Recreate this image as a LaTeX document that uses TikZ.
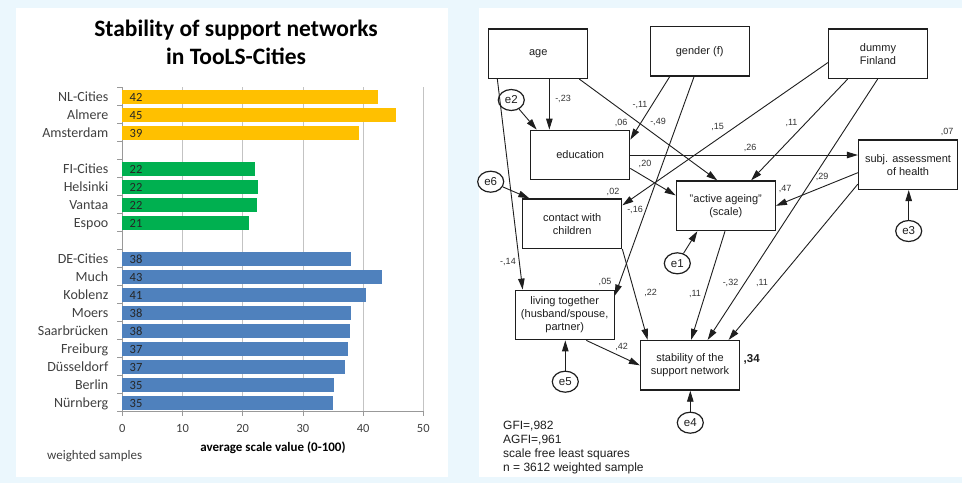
\documentclass[tikz,border=0pt]{standalone}
\usepackage{fontspec}
\setmainfont{Liberation Sans}
\newfontfamily\calfont{Carlito}
\usetikzlibrary{arrows.meta,calc,shapes.geometric}
\definecolor{bgblue}{RGB}{235,247,253}
\definecolor{cgold}{RGB}{255,192,0}
\definecolor{cgreen}{RGB}{0,176,80}
\definecolor{cblue}{RGB}{79,129,189}
\definecolor{gridgray}{RGB}{195,195,195}
\definecolor{txtgray}{RGB}{64,64,64}
\definecolor{ink}{RGB}{30,30,30}
\begin{document}
\begin{tikzpicture}[x=1pt,y=-1pt,
  box/.style={draw=ink,line width=1.3pt,fill=white,minimum width=99pt,minimum height=49.5pt,inner sep=1pt,align=center,text=ink,font=\fontsize{11}{13}\selectfont},
  err/.style={draw=ink,line width=1.2pt,fill=white,ellipse,minimum width=26pt,minimum height=21pt,inner sep=0pt,text=ink,font=\fontsize{11.5}{13}\selectfont},
  arr/.style={draw=ink,line width=0.9pt,-{Triangle[length=11pt,width=6.5pt]}},
  coef/.style={font=\fontsize{9}{10}\selectfont,text=black!80,inner sep=0pt},
  cat/.style={font=\calfont\fontsize{14}{16}\selectfont,text=txtgray,inner sep=0pt,anchor=base east},
  val/.style={font=\calfont\fontsize{12.5}{14}\selectfont,text=black!85,inner sep=0pt,anchor=base west},
  tick/.style={font=\calfont\fontsize{12.5}{14}\selectfont,text=txtgray,inner sep=0pt,anchor=base},
  note/.style={font=\fontsize{12}{14}\selectfont,text=ink,inner sep=0pt,anchor=base west}]
% background and panels
\fill[bgblue] (0,0) rectangle (962,483);
\fill[white] (16,8) rectangle (448,477);
\fill[white] (479,8) rectangle (962,477);
% ---------------- bar chart ----------------
\node[font=\calfont\bfseries\fontsize{23.5}{28}\selectfont,anchor=base,inner sep=0pt] (title1) at (236,36.7) {Stability of support networks};
\node[font=\calfont\bfseries\fontsize{23.5}{28}\selectfont,anchor=base,inner sep=0pt] (title2) at (236,64.7) {in TooLS-Cities};
\foreach \k in {1,...,5}
  \draw[gridgray,line width=0.8pt] ({122.3+60.2*\k},87) -- ({122.3+60.2*\k},411);
\draw[gray!80,line width=0.8pt] (122.3,87) -- (122.3,411) -- (423.3,411);
\foreach \k in {0,...,18}
  \draw[gray!80,line width=0.8pt] (117.3,{87+18*\k}) -- (122.3,{87+18*\k});
\foreach \k/\lab in {0/0,1/10,2/20,3/30,4/40,5/50}{
  \draw[gray!80,line width=0.8pt] ({122.3+60.2*\k},411) -- ({122.3+60.2*\k},416);
  \node[tick] (tick\k) at ({122.3+60.2*\k},432.7) {\lab};
}
\foreach \i/\v/\lab/\nm/\col in {0/42.4/42/NL-Cities/cgold,1/45.4/45/Almere/cgold,2/39.4/39/Amsterdam/cgold,
  4/22.0/22/FI-Cities/cgreen,5/22.5/22/Helsinki/cgreen,6/22.4/22/Vantaa/cgreen,7/21.1/21/Espoo/cgreen,
  9/38.0/38/DE-Cities/cblue,10/43.1/43/Much/cblue,11/40.5/41/Koblenz/cblue,12/38.0/38/Moers/cblue,
  13/37.9/38/Saarbrücken/cblue,14/37.5/37/Freiburg/cblue,15/37.0/37/Düsseldorf/cblue,
  16/35.2/35/Berlin/cblue,17/35.0/35/Nürnberg/cblue}{
  \fill[\col] (122.3,{87+18*\i+2.5}) rectangle ({122.3+6.02*\v},{87+18*\i+16.5});
  \node[val] (val\i) at (129.5,{87+18*\i+14}) {\lab};
  \node[cat] (cat\i) at (108.5,{87+18*\i+14}) {\nm};
}
\node[font=\calfont\bfseries\fontsize{13}{15}\selectfont,anchor=base,inner sep=0pt] (xtitle) at (273,451.5) {average scale value (0-100)};
\node[font=\calfont\fontsize{13}{15}\selectfont,anchor=base west,inner sep=0pt,text=txtgray] (wsamp) at (47,459) {weighted samples};
% ---------------- path diagram ----------------
\node[box] (age) at (538.2,53.7) {age};
\node[box] (gender) at (699.7,51.3) {gender (f)};
\node[box] (dummy) at (878,53.7) {dummy\\Finland};
\node[box] (edu) at (580.2,155) {education};
\node[box] (subj) at (908,164.7) {subj. assessment\\of health};
\node[box] (active) at (725.8,205.8) {"active ageing"\\(scale)};
\node[box] (contact) at (572.2,223.7) {contact with\\children};
\node[box] (living) at (564.7,315) {living together\\(husband/spouse,\\partner)};
\node[box] (stab) at (690,365.3) {stability of the\\support network};
\node[err] (e2) at (511.3,100) {e2};
\node[err] (e6) at (490.7,181.7) {e6};
\node[err] (e3) at (908.7,231) {e3};
\node[err] (e1) at (677.3,263.3) {e1};
\node[err] (e5) at (565.3,381.7) {e5};
\node[err] (e4) at (690.3,422.7) {e4};
% connectors
\draw[arr] ([xshift=9.3pt]age.south west) -- ([xshift=8.1pt]living.north west);
\draw[arr] ([xshift=61.3pt]age.south west) -- ([xshift=19.3pt]edu.north west);
\draw[arr] (e2) -- ([xshift=6.6pt]edu.north west);
\draw[arr] ([xshift=91.3pt]age.south west) -- ([xshift=41.7pt]active.north west);
\draw[arr] ([xshift=20.1pt]gender.south west) -- ([yshift=-10pt]edu.north east);
\draw[arr] ([xshift=44.5pt]gender.south west) -- ([yshift=-6pt]living.north east);
\draw[arr] ([yshift=16.5pt]dummy.south west) -- ([yshift=-7pt]contact.north east);
\draw[arr] (edu.east) -- (edu.east -| subj.west);
\draw[arr] ([yshift=12pt]edu.south east) -- ([yshift=-15pt]active.north west);
\draw[arr] ([xshift=19.8pt]dummy.south west) -- ([xshift=75.4pt]active.north west);
\draw[arr] ([xshift=49.8pt]dummy.south west) -- ([xshift=67.8pt]stab.north west);
\draw[arr] ([yshift=-8pt]subj.west) -- (active.east);
\draw[arr] ([yshift=6pt]subj.south west) -- ([xshift=88.8pt]stab.north west);
\draw[arr] ([xshift=-0.8pt]active.south) -- ([xshift=51.2pt]stab.north west);
\draw[arr] (contact.south east) -- ([xshift=7.8pt]stab.north west);
\draw[arr] ([xshift=21.6pt]living.south) -- (stab.west);
\draw[arr] (e1) -- ([xshift=21.7pt]active.south west);
\draw[arr] (e3) -- (e3 |- subj.south);
\draw[arr] (e5) -- (e5 |- living.south);
\draw[arr] (e4) -- (e4 |- stab.south);
\draw[arr] (e6) -- ([xshift=7.3pt]contact.north west);
% coefficients
\node[coef] (c1) at (563,98.7) {-,23};
\node[coef] (c2) at (640,105) {-,11};
\node[coef] (c3) at (658,122.3) {-,49};
\node[coef] (c4) at (621,122.7) {,06};
\node[coef] (c5) at (717.5,127.3) {,15};
\node[coef] (c6) at (791.5,123.3) {,11};
\node[coef] (c7) at (947,132) {,07};
\node[coef] (c8) at (750,147.7) {,26};
\node[coef] (c9) at (645,164.3) {,20};
\node[coef] (c10) at (822,176.7) {,29};
\node[coef] (c11) at (785,189) {,47};
\node[coef] (c12) at (613,191.7) {,02};
\node[coef] (c13) at (635,210) {-,16};
\node[coef] (c14) at (508,262) {-,14};
\node[coef] (c15) at (605,281.7) {,05};
\node[coef] (c16) at (650.5,293.3) {,22};
\node[coef] (c17) at (695,294) {,11};
\node[coef] (c18) at (730.5,282.5) {-,32};
\node[coef] (c19) at (762,283) {,11};
\node[coef] (c20) at (621.7,346.7) {,42};
\node[font=\bfseries\fontsize{11.5}{13}\selectfont,inner sep=0pt,text=ink] (r34) at (751.7,359) {,34};
% fit notes
\node[note] (n1) at (503,429.3) {GFI=,982};
\node[note] (n2) at (503,443.6) {AGFI=,961};
\node[note] (n3) at (503,457.3) {scale free least squares};
\node[note] (n4) at (503,471) {n = 3612 weighted sample};
\end{tikzpicture}
\end{document}
